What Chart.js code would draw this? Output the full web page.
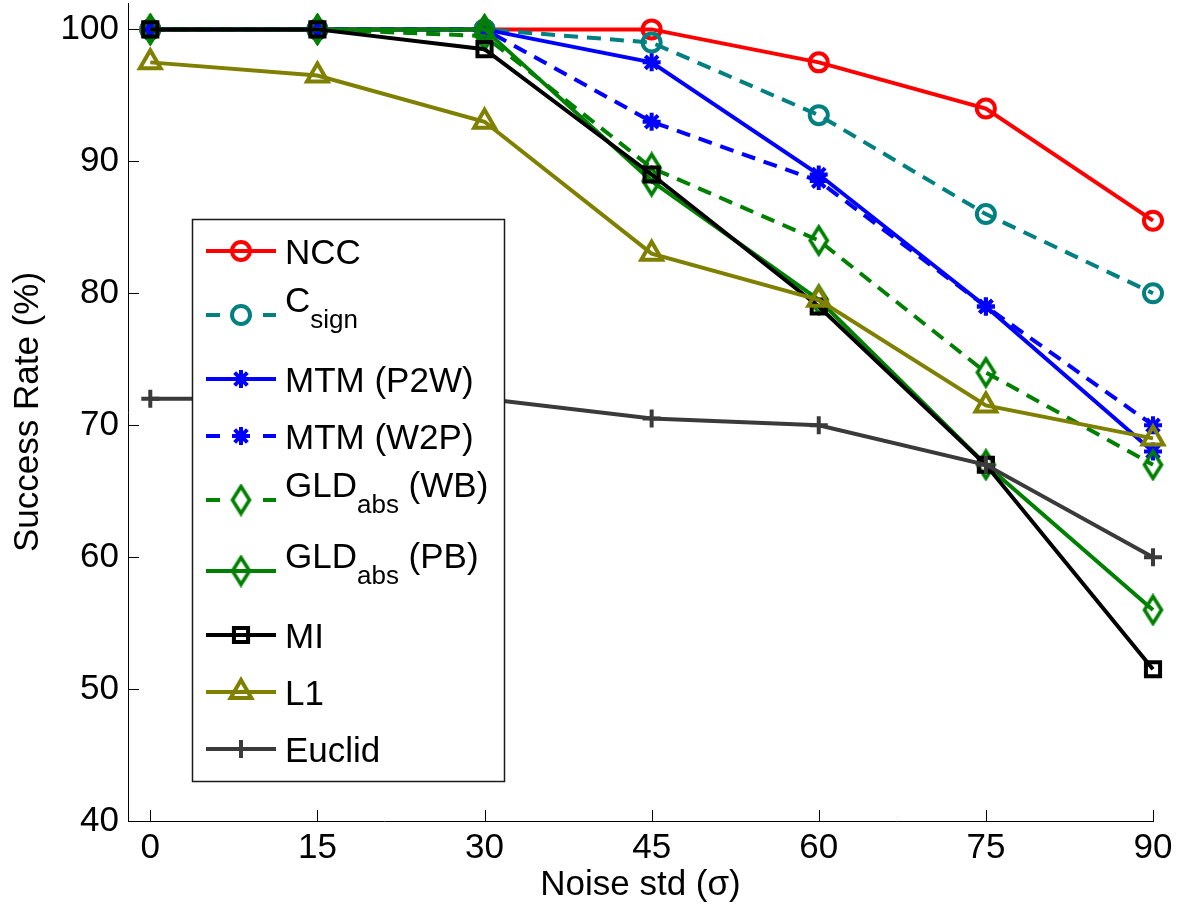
<!DOCTYPE html>
<html>
<head>
<meta charset="utf-8">
<script src="https://cdn.jsdelivr.net/npm/chart.js@4/dist/chart.umd.min.js"></script>
<style>
  html, body { margin: 0; padding: 0; background: #fff; }
  #wrap { width: 1179px; height: 913px; position: relative; }
</style>
</head>
<body>
<div id="wrap"><canvas id="c" width="1179" height="913"></canvas></div>
<script>
// Noise levels (x) and axis ticks
const noiseStd = [0, 15, 30, 45, 60, 75, 90];
const xTickValues = [0, 15, 30, 45, 60, 75, 90];
const yTickValues = [40, 50, 60, 70, 80, 90, 100];

// Series names; "_{...}" marks a subscript
const seriesLabels = ['NCC', 'C_{sign}', 'MTM (P2W)', 'MTM (W2P)', 'GLD_{abs} (WB)', 'GLD_{abs} (PB)', 'MI', 'L1', 'Euclid'];

// Success rate (%) per method
const ncc    = [100, 100, 100, 100, 97.5, 94, 85.5];
const cSign  = [100, 100, 100, 99, 93.5, 86, 80];
const mtmP2W = [100, 100, 100, 97.5, 89, 79, 68];
const mtmW2P = [100, 100, 100, 93, 88.5, 79, 70];
const gldWB  = [100, 100, 99.5, 89.5, 84, 74, 67];
const gldPB  = [100, 100, 100, 88.5, 79.5, 67, 56];
const mi     = [100, 100, 98.5, 89, 79, 67, 51.5];
const l1     = [97.5, 96.5, 93, 83, 79.5, 71.5, 69];
const euclid = [72, 72, 72, 70.5, 70, 67, 60];

const seriesValues = [ncc, cSign, mtmP2W, mtmW2P, gldWB, gldPB, mi, l1, euclid];

const FONT = '"Liberation Sans", Arial, Helvetica, sans-serif';

// Open diamond marker (taller than wide)
function makeDiamond(color, hw, hh, lw) {
  const c = document.createElement('canvas');
  c.width = Math.ceil(2 * hw + lw + 2);
  c.height = Math.ceil(2 * hh + lw + 2);
  const g = c.getContext('2d');
  const cx = c.width / 2, cy = c.height / 2;
  g.strokeStyle = color;
  g.lineWidth = lw;
  g.lineJoin = 'miter';
  g.beginPath();
  g.moveTo(cx, cy - hh);
  g.lineTo(cx + hw, cy);
  g.lineTo(cx, cy + hh);
  g.lineTo(cx - hw, cy);
  g.closePath();
  g.stroke();
  return c;
}

const GREEN = '#008000';
const diamond = makeDiamond(GREEN, 8.5, 13.5, 3.6);

const seriesStyles = [
  { color: '#ff0000', dash: [],      point: 'circle',   radius: 9 },
  { color: '#008080', dash: [14, 9], point: 'circle',   radius: 9 },
  { color: '#0000ff', dash: [],      point: 'star',     radius: 9 },
  { color: '#0000ff', dash: [14, 9], point: 'star',     radius: 9 },
  { color: GREEN,     dash: [14, 9], point: diamond,    radius: 13 },
  { color: GREEN,     dash: [],      point: diamond,    radius: 13 },
  { color: '#000000', dash: [],      point: 'rect',     radius: 10 },
  { color: '#808000', dash: [],      point: 'triangle', radius: 12 },
  { color: '#3a3a3a', dash: [],      point: 'cross',    radius: 9 }
];

const LINE_W = 4;
const N = seriesValues.length;
const datasets = seriesValues.map((vals, i) => {
  const s = seriesStyles[i];
  return {
    label: seriesLabels[i].replace(/_\{([^}]*)\}/, '$1'),
    data: noiseStd.map((x, j) => ({ x: x, y: vals[j] })),
    borderColor: s.color,
    borderWidth: LINE_W,
    borderDash: s.dash,
    pointStyle: s.point,
    pointRadius: s.radius,
    pointBorderWidth: LINE_W,
    pointBorderColor: s.color,
    pointBackgroundColor: 'rgba(0,0,0,0)',
    tension: 0,
    fill: false,
    clip: false,
    order: N - i
  };
});

function parseLabel(str) {
  const m = str.match(/^(.*?)_\{([^}]*)\}(.*)$/);
  if (!m) return { main: str, sub: '', tail: '' };
  return { main: m[1], sub: m[2], tail: m[3] };
}

// Inward tick marks on both axes
const innerTicks = {
  id: 'innerTicks',
  afterDatasetsDraw(chart) {
    const { ctx, chartArea, scales } = chart;
    ctx.save();
    ctx.strokeStyle = '#000';
    ctx.lineWidth = 1;
    xTickValues.forEach(v => {
      const px = Math.round(scales.x.getPixelForValue(v)) + 0.5;
      ctx.beginPath();
      ctx.moveTo(px, chartArea.bottom);
      ctx.lineTo(px, chartArea.bottom - 11);
      ctx.stroke();
    });
    yTickValues.forEach(v => {
      const py = Math.round(scales.y.getPixelForValue(v)) + 0.5;
      ctx.beginPath();
      ctx.moveTo(chartArea.left, py);
      ctx.lineTo(chartArea.left + 11, py);
      ctx.stroke();
    });
    ctx.restore();
  }
};

// Boxed legend with subscripted names
const boxLegend = {
  id: 'boxLegend',
  afterDraw(chart) {
    const ctx = chart.ctx;
    const box = { x: 192, y: 219, w: 312, h: 562 };
    ctx.save();
    ctx.fillStyle = '#fff';
    ctx.fillRect(box.x, box.y, box.w, box.h);
    ctx.strokeStyle = '#1a1a1a';
    ctx.lineWidth = 1.5;
    ctx.strokeRect(box.x + 0.5, box.y + 0.5, box.w, box.h);

    const parts = seriesLabels.map(parseLabel);
    const lineX0 = 206, lineX1 = 276, markX = 241, textX = 285;
    let y = box.y + 32;
    parts.forEach((p, i) => {
      if (i > 0) {
        y += 57 + (parts[i - 1].sub ? 7 : 0) + (p.sub ? 7 : 0);
      }
      const ds = chart.data.datasets[i];
      const s = seriesStyles[i];
      ctx.strokeStyle = s.color;
      ctx.lineWidth = LINE_W;
      ctx.setLineDash([]);
      ctx.beginPath();
      if (s.dash.length) {
        ctx.moveTo(lineX0, y); ctx.lineTo(lineX0 + 14, y);
        ctx.moveTo(lineX1 - 13, y); ctx.lineTo(lineX1, y);
      } else {
        ctx.moveTo(lineX0, y); ctx.lineTo(lineX1, y);
      }
      ctx.stroke();
      ctx.fillStyle = 'rgba(0,0,0,0)';
      Chart.helpers.drawPoint(ctx, {
        pointStyle: ds.pointStyle, radius: ds.pointRadius, rotation: 0, borderWidth: LINE_W
      }, markX, y);

      ctx.fillStyle = '#000';
      ctx.textAlign = 'left';
      ctx.textBaseline = 'alphabetic';
      if (!p.sub) {
        ctx.font = '35px ' + FONT;
        ctx.fillText(p.main, textX, y + 13);
      } else {
        ctx.font = '35px ' + FONT;
        ctx.fillText(p.main, textX, y - 3.5);
        let x = textX + ctx.measureText(p.main).width;
        ctx.font = '26px ' + FONT;
        ctx.fillText(p.sub, x, y + 13);
        x += ctx.measureText(p.sub).width;
        if (p.tail) {
          ctx.font = '35px ' + FONT;
          ctx.fillText(p.tail, x, y - 3.5);
        }
      }
    });
    ctx.restore();
  }
};

const tickFont = { family: FONT, size: 35 };

new Chart(document.getElementById('c'), {
  type: 'line',
  data: { datasets: datasets },
  options: {
    responsive: false,
    animation: false,
    devicePixelRatio: 1,
    layout: { autoPadding: false, padding: { top: 3, right: 26, left: 0, bottom: 0 } },
    plugins: { legend: { display: false }, tooltip: { enabled: false } },
    scales: {
      x: {
        type: 'linear',
        min: -2,
        max: 90,
        afterBuildTicks: s => { s.ticks = xTickValues.map(v => ({ value: v })); },
        afterFit: s => { s.height = 92; s.paddingLeft = 0; s.paddingRight = 0; },
        grid: { display: false, drawTicks: false },
        border: { display: true, color: '#000', width: 1 },
        ticks: { font: tickFont, color: '#000', padding: 6, maxRotation: 0, autoSkip: false },
        title: { display: true, text: 'Noise std (σ)', font: tickFont, color: '#000', padding: { top: 7, bottom: 7 } }
      },
      y: {
        type: 'linear',
        min: 40,
        max: 102,
        afterBuildTicks: s => { s.ticks = yTickValues.map(v => ({ value: v })); },
        afterFit: s => { s.width = 128; s.paddingTop = 0; s.paddingBottom = 0; },
        grid: { display: false, drawTicks: false },
        border: { display: true, color: '#000', width: 1 },
        ticks: { font: tickFont, color: '#000', padding: 9, autoSkip: false },
        title: { display: true, text: 'Success Rate (%)', font: tickFont, color: '#000', padding: { top: 7, bottom: 7 } }
      }
    }
  },
  plugins: [innerTicks, boxLegend]
});
</script>
</body>
</html>
